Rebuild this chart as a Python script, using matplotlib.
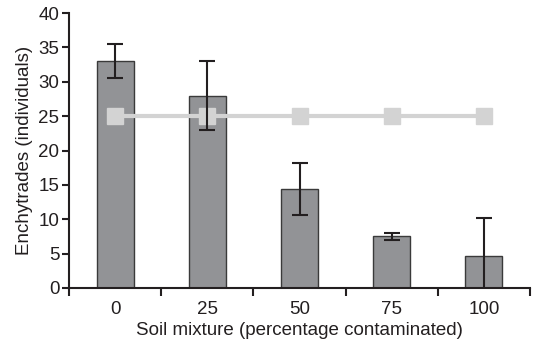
import matplotlib
matplotlib.use("Agg")
import matplotlib.pyplot as plt
import numpy as np

categories = ["0", "25", "50", "75", "100"]
means = [33.0, 28.0, 14.4, 7.5, 4.7]
errors = [2.5, 5.0, 3.8, 0.55, 5.5]
reference = [25, 25, 25, 25, 25]
yticks = [0, 5, 10, 15, 20, 25, 30, 35, 40]

plt.rcParams['font.family'] = ['Liberation Sans', 'DejaVu Sans']

fig = plt.figure(figsize=(5.38, 3.45), dpi=100)
ax = fig.add_axes([69/538, (345-288)/345, (530-69)/538, (288-13)/345])

x = np.arange(len(categories))
ax.bar(x, means, width=0.4, color="#929396", edgecolor="#3a3a3a", linewidth=1.0, zorder=2)
ax.plot(x, reference, color="#d3d3d3", linewidth=3, marker="s", markersize=11,
        markerfacecolor="#d3d3d3", markeredgecolor="#d3d3d3", zorder=3)
ax.errorbar(x, means, yerr=errors, fmt="none", ecolor="#231f20", elinewidth=1.5,
            capsize=5.5, capthick=1.5, zorder=4)

ax.set_xlim(-0.5, len(categories) - 0.5)
ax.set_ylim(0, 40)
ax.set_yticks(yticks)
ax.set_xticks(x)
ax.set_xticklabels(categories)
ax.set_xticks(np.arange(len(categories) + 1) - 0.5, minor=True)
ax.tick_params(axis="x", which="major", length=0, labelsize=13.5, pad=9, colors="#231f20")
ax.tick_params(axis="x", which="minor", length=6, width=1.5, direction="out", color="#231f20")
ax.tick_params(axis="y", which="major", length=5, width=1.5, direction="out", labelsize=13.5, pad=2, colors="#231f20")

for s in ["top", "right"]:
    ax.spines[s].set_visible(False)
for s in ["left", "bottom"]:
    ax.spines[s].set_linewidth(1.5)
    ax.spines[s].set_color("#231f20")

ax.set_xlabel("Soil mixture (percentage contaminated)", fontsize=13.5, color="#231f20", labelpad=3)
ax.set_ylabel("Enchytrades (individuals)", fontsize=13.5, color="#231f20", labelpad=4)

fig.savefig("out.png", dpi=100)
